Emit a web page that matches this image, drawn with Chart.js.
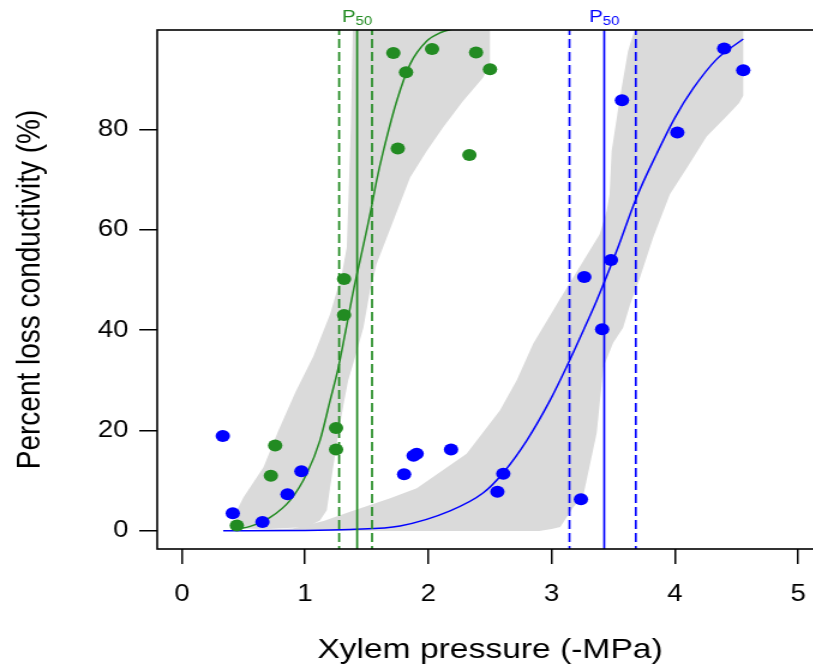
<!DOCTYPE html>
<html>
<head>
<meta charset="utf-8">
<script src="https://cdn.jsdelivr.net/npm/chart.js@4.4.1/dist/chart.umd.min.js"></script>
<style>
html, body { margin: 0; padding: 0; overflow: hidden; background: #fff; }
#plc { display: block; }
</style>
</head>
<body>
<canvas id="plc" width="700" height="668" style="width:840px;height:668px"></canvas>
<script>
const green = '#228B22', blue = '#0000FF', band = '#dadada';
const family = '"Liberation Sans", Arial, sans-serif';

// measured points
const greenX = [0.446, 0.722, 0.757, 1.251, 1.251, 1.316, 1.316, 1.716, 1.752, 1.819, 2.03, 2.333, 2.387, 2.5];
const greenY = [1.1, 11.0, 17.0, 16.2, 20.5, 43.0, 50.2, 95.2, 76.2, 91.4, 96.0, 74.9, 95.3, 92.0];
const blueX = [0.332, 0.413, 0.654, 0.857, 0.97, 1.803, 1.88, 1.905, 2.184, 2.56, 2.608, 3.238, 3.265, 3.41, 3.482, 3.571, 4.02, 4.40, 4.555];
const blueY = [18.9, 3.5, 1.8, 7.3, 11.9, 11.3, 15.0, 15.4, 16.2, 7.8, 11.4, 6.3, 50.6, 40.2, 54.0, 85.8, 79.4, 96.1, 91.8];

// fitted curves
const greenFitX = [0.45, 0.554, 0.716, 0.878, 1.013, 1.12, 1.203, 1.27, 1.33, 1.392, 1.46, 1.527, 1.58, 1.635, 1.744, 1.852, 1.987, 2.1, 2.2];
const greenFitY = [0.4, 0.9, 2.7, 6.1, 11.4, 18.0, 26.0, 32.6, 40.0, 47.9, 55.5, 63.1, 69.8, 75.7, 85.7, 93.0, 97.6, 99.3, 100.0];
const blueFitX = [0.335, 1.0, 1.365, 1.77, 2.176, 2.446, 2.608, 2.798, 2.987, 3.12, 3.257, 3.366, 3.528, 3.69, 3.85, 4.0, 4.15, 4.34, 4.555];
const blueFitY = [0.05, 0.1, 0.3, 1.0, 4.0, 7.6, 11.6, 18.0, 26.0, 32.6, 39.9, 45.9, 55.8, 66.5, 75.0, 82.3, 88.2, 94.0, 98.0];

// confidence bands: left edge and right edge, bottom to top
const greenBandLeftX = [0.446, 0.446, 0.5, 0.662, 0.78, 0.92, 1.067, 1.203, 1.298, 1.338, 1.351, 1.37, 1.387];
const greenBandLeftY = [0.5, 4.1, 6.7, 12.7, 19.8, 27.6, 34.8, 43.2, 51.2, 56.5, 65.8, 80.0, 100];
const greenBandRightX = [0.7, 1.014, 1.12, 1.176, 1.203, 1.257, 1.31, 1.35, 1.41, 1.473, 1.527, 1.58, 1.716, 1.852, 1.987, 2.119, 2.28, 2.443, 2.5, 2.5];
const greenBandRightY = [0.4, 0.8, 2.1, 4.1, 8.7, 17.4, 25.0, 30.0, 35.0, 40.5, 47.9, 53.2, 61.8, 70.4, 75.7, 80.4, 85.6, 90.3, 93.0, 100];
const blueBandLeftX = [0.335, 0.9, 1.15, 1.365, 1.69, 1.906, 2.31, 2.58, 2.717, 2.85, 3.068, 3.257, 3.39, 3.447, 3.47, 3.487, 3.55, 3.62, 3.676];
const blueBandLeftY = [0, 0.5, 2.0, 3.8, 6.5, 8.5, 15.4, 24.0, 30.0, 37.3, 46.2, 53.8, 59.1, 63.8, 67.0, 75.7, 85.7, 95.6, 100];
const blueBandRightX = [0.335, 2.9, 3.0, 3.07, 3.176, 3.257, 3.366, 3.42, 3.5, 3.58, 3.636, 3.717, 3.825, 3.96, 4.1, 4.258, 4.42, 4.52, 4.555, 4.555];
const blueBandRightY = [0, 0, 0.4, 0.8, 4.7, 7.0, 19.5, 32.6, 37.5, 40.5, 45.0, 50.5, 58.5, 67.1, 72.4, 78.6, 82.6, 85.2, 86.7, 100];

// P50 and its interval
const p50Green = 1.422, ciGreen = [1.276, 1.543];
const p50Blue = 3.427, ciBlue = [3.145, 3.683];

const xTicks = [0, 1, 2, 3, 4, 5];
const yTicks = [0, 20, 40, 60, 80];

const pts = (xs, ys) => xs.map((v, i) => ({ x: v, y: ys[i] }));
const poly = (lx, ly, rx, ry) => pts(lx, ly).concat(pts(rx, ry).reverse());

const bandSet = (data) => ({
  data, showLine: true, fill: 'shape', backgroundColor: band,
  borderColor: 'rgba(0,0,0,0)', borderWidth: 0, pointRadius: 0, order: 10
});
const fitSet = (data, color) => ({
  data, showLine: true, borderColor: color, borderWidth: 1.5, pointRadius: 0,
  cubicInterpolationMode: 'monotone', fill: false, order: 4
});
const vline = (v, color, dashed) => ({
  data: [{ x: v, y: -10 }, { x: v, y: 110 }], showLine: true, borderColor: color,
  borderWidth: 1.7, borderDash: dashed ? [9, 4] : [], pointRadius: 0, fill: false, order: 3
});
const dotSet = (data, color) => ({
  data, pointRadius: 6, pointBackgroundColor: color, pointBorderWidth: 0,
  pointBorderColor: color, showLine: false, order: 1
});

const frame = {
  id: 'frame',
  afterDatasetsDraw(chart) {
    const { ctx, chartArea: a, scales: { x } } = chart;
    ctx.save();
    ctx.strokeStyle = '#000';
    ctx.lineWidth = 1.6;
    ctx.strokeRect(a.left, a.top, a.right - a.left, a.bottom - a.top);
    [[p50Green, green], [p50Blue, blue]].forEach(([v, c]) => {
      const px = x.getPixelForValue(v);
      ctx.font = '17px ' + family;
      const wP = ctx.measureText('P').width;
      ctx.font = '12.5px ' + family;
      const w5 = ctx.measureText('50').width;
      const sx = px - (wP + w5) / 2;
      ctx.fillStyle = c;
      ctx.textAlign = 'left';
      ctx.textBaseline = 'alphabetic';
      ctx.font = '17px ' + family;
      ctx.fillText('P', sx, 22);
      ctx.font = '12.5px ' + family;
      ctx.fillText('50', sx + wP, 24.5);
    });
    ctx.restore();
  }
};

const axisGrid = { drawOnChartArea: false, drawTicks: true, tickLength: 15, color: '#000', lineWidth: 1.5 };

new Chart(document.getElementById('plc'), {
  type: 'scatter',
  data: {
    datasets: [
      dotSet(pts(greenX, greenY), green),
      dotSet(pts(blueX, blueY), blue),
      vline(p50Green, green, false),
      vline(ciGreen[0], green, true),
      vline(ciGreen[1], green, true),
      vline(p50Blue, blue, false),
      vline(ciBlue[0], blue, true),
      vline(ciBlue[1], blue, true),
      fitSet(pts(greenFitX, greenFitY), green),
      fitSet(pts(blueFitX, blueFitY), blue),
      bandSet(poly(greenBandLeftX, greenBandLeftY, greenBandRightX, greenBandRightY)),
      bandSet(poly(blueBandLeftX, blueBandLeftY, blueBandRightX, blueBandRightY))
    ]
  },
  options: {
    responsive: false,
    devicePixelRatio: 1,
    animation: false,
    events: [],
    layout: { padding: { top: 30, right: 14.4, left: 0, bottom: 0 } },
    plugins: { legend: { display: false }, tooltip: { enabled: false } },
    scales: {
      x: {
        type: 'linear', min: -0.2, max: 5.2,
        afterBuildTicks: s => { s.ticks = xTicks.map(v => ({ value: v })); },
        afterFit: s => { s.height = 119; },
        grid: axisGrid,
        border: { display: false },
        ticks: { color: '#000', font: { family, size: 23 }, padding: 17, maxRotation: 0 },
        title: { display: true, text: 'Xylem pressure (-MPa)', color: '#000', font: { family, size: 28 }, padding: { top: 0, bottom: 1 } }
      },
      y: {
        type: 'linear', min: -3.6, max: 99.8,
        afterBuildTicks: s => { s.ticks = yTicks.map(v => ({ value: v })); },
        afterFit: s => { s.width = 131; },
        grid: axisGrid,
        border: { display: false },
        ticks: { color: '#000', font: { family, size: 23 }, padding: 9 },
        title: { display: true, text: 'Percent loss conductivity (%)', color: '#000', font: { family, size: 28 }, padding: { top: 8, bottom: 0 } }
      }
    }
  },
  plugins: [frame]
});
</script>
</body>
</html>
